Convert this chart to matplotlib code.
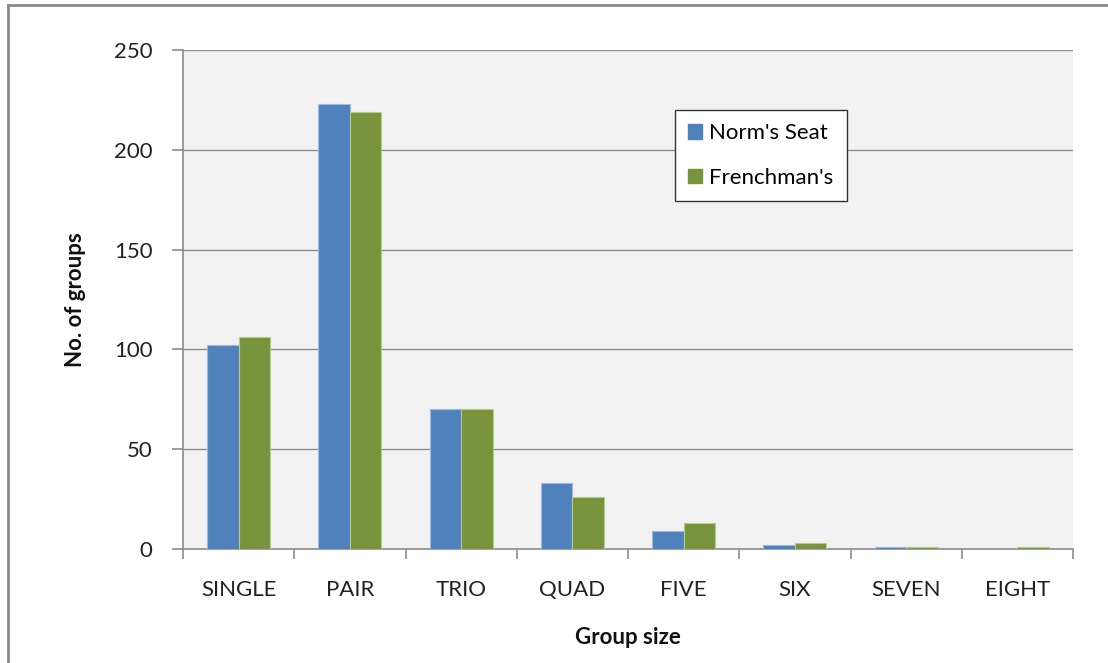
import matplotlib
matplotlib.use("Agg")
import matplotlib.pyplot as plt
from matplotlib.lines import Line2D
from matplotlib.patches import Patch
import numpy as np

categories = ["SINGLE", "PAIR", "TRIO", "QUAD", "FIVE", "SIX", "SEVEN", "EIGHT"]
norms_seat = [102, 223, 70, 33, 9, 2, 1, 0]
frenchmans = [106, 219, 70, 26, 13, 3, 1, 1]
series_names = ["Norm's Seat", "Frenchman's"]
y_ticks = [0, 50, 100, 150, 200, 250]

plt.rcParams["font.family"] = ["Lato", "DejaVu Sans"]

W, H = 1108, 663
fig = plt.figure(figsize=(W / 100, H / 100), dpi=100)
fig.patch.set_facecolor("white")

# plot area in pixel coordinates
left, right, top, bottom = 183, 1073, 50, 549
ax = fig.add_axes([left / W, 1 - bottom / H, (right - left) / W, (bottom - top) / H])
ax.set_facecolor("#F2F2F2")

x = np.arange(len(categories))
bw = 0.283
blue = "#4F81BD"
green = "#77933C"
ax.bar(x - bw / 2, norms_seat, bw, color=blue, edgecolor="#9DB9DC", linewidth=0.8, zorder=3)
ax.bar(x + bw / 2, frenchmans, bw, color=green, edgecolor="#B5CB8A", linewidth=0.8, zorder=3)

ax.set_xlim(-0.5, len(categories) - 0.5)
ax.set_ylim(0, 250)
ax.set_yticks(y_ticks)
ax.yaxis.grid(True, color="#8C8C8C", linewidth=1.0, zorder=1)
ax.set_axisbelow(True)

fs = 16
ax.set_xticks(x)
ax.set_xticklabels(categories)
ax.set_xticks(np.arange(len(categories) + 1) - 0.5, minor=True)
ax.tick_params(axis="x", which="major", length=0, pad=22, labelsize=fs, colors="#222222")
ax.tick_params(axis="x", which="minor", length=7, width=1.2, color="#8C8C8C", direction="out")
ax.tick_params(axis="y", length=8, width=1.2, color="#8C8C8C", direction="out",
               labelsize=fs, pad=14, labelcolor="#222222")

for s in ["top", "right"]:
    ax.spines[s].set_visible(False)
for s in ["left", "bottom"]:
    ax.spines[s].set_color("#8C8C8C")
    ax.spines[s].set_linewidth(1.2)

fig.text(76 / W, 1 - 300 / H, "No. of groups", rotation=90, ha="center", va="center",
         fontsize=fs, fontweight="bold", color="#111111")
fig.text(628 / W, 1 - 638 / H, "Group size", ha="center", va="center",
         fontsize=fs, fontweight="bold", color="#111111")

handles = [Patch(facecolor=blue, edgecolor=blue), Patch(facecolor=green, edgecolor=green)]
leg = ax.legend(handles, series_names, loc="upper left",
                bbox_to_anchor=((675 - left) / (right - left), 1 - (110 - top) / (bottom - top)),
                fontsize=fs, frameon=True, fancybox=False, handlelength=0.6, handleheight=0.6,
                handletextpad=0.35, labelspacing=1.1, borderpad=0.6, borderaxespad=0)
leg.get_frame().set_edgecolor("#333333")
leg.get_frame().set_linewidth(1.0)
leg.get_frame().set_facecolor("white")
leg.get_frame().set_alpha(1)
leg.set_zorder(5)

# outer chart border
fig.add_artist(Line2D([8 / W, 8 / W], [0, 1 - 5 / H], transform=fig.transFigure,
                      color="#8A8A8A", linewidth=2))
fig.add_artist(Line2D([8 / W, 1], [1 - 5 / H, 1 - 5 / H], transform=fig.transFigure,
                      color="#8A8A8A", linewidth=2))

fig.savefig("out.png", dpi=100)
